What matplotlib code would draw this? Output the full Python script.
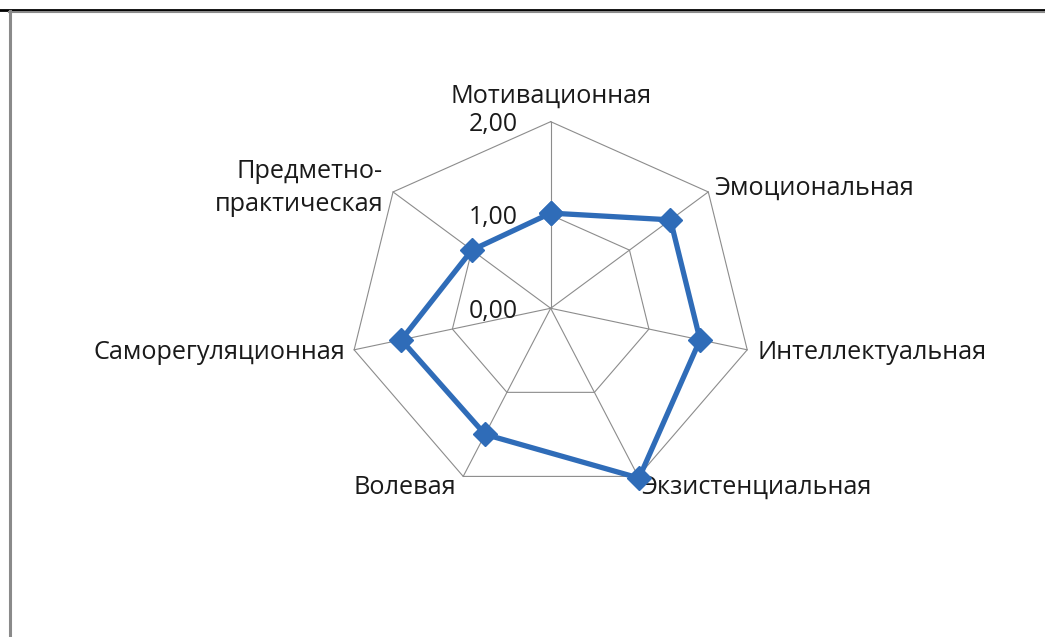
import matplotlib
matplotlib.use("Agg")
import matplotlib.pyplot as plt
import numpy as np
from matplotlib.lines import Line2D

categories = [
    "Мотивационная",
    "Эмоциональная",
    "Интеллектуальная",
    "Экзистенциальная",
    "Волевая",
    "Саморегуляционная",
    "Предметно-\nпрактическая",
]
values = [1.02, 1.52, 1.52, 2.02, 1.50, 1.52, 1.00]
ticks = [0.0, 1.0, 2.0]
tick_labels = ["0,00", "1,00", "2,00"]

# label offsets (pixels) from outer vertex, and alignment
label_offsets = [(0, 25), (6, 4), (10, -3), (3, -11), (-7, -11), (-9, -3), (-10, 4)]
label_ha = ["center", "left", "left", "left", "right", "right", "right"]

plt.rcParams["font.family"] = ["Open Sans", "DejaVu Sans"]
FS = 18.2
TXT = "#1a1a1a"

fig = plt.figure(figsize=(10.45, 6.37), dpi=100)
ax = fig.add_axes([0, 0, 1, 1])
# the original chart is slightly stretched horizontally
ax.set_xlim(-5.463, 4.904)
ax.set_ylim(-3.523, 3.304)
ax.axis("off")

n = len(categories)
ang = np.arange(n) * 2 * np.pi / n
sx, cy = np.sin(ang), np.cos(ang)

grid_col = "#8c8c8c"
for r in ticks[1:]:
    ax.plot(np.append(r * sx, r * sx[0]), np.append(r * cy, r * cy[0]),
            color=grid_col, lw=0.8, zorder=1)
for i in range(n):
    ax.plot([0, ticks[-1] * sx[i]], [0, ticks[-1] * cy[i]],
            color=grid_col, lw=0.8, zorder=1)

for t, lab in zip(ticks, tick_labels):
    ax.text(-0.33, t - 0.03, lab, ha="right", va="center", fontsize=FS - 0.4,
            color=TXT)

r_max = ticks[-1]
for i, name in enumerate(categories):
    ax.annotate(name, (r_max * sx[i], r_max * cy[i]), xytext=label_offsets[i],
                textcoords="offset pixels", ha=label_ha[i], va="center",
                fontsize=FS, color=TXT, multialignment="right", linespacing=1.45)

v = np.array(values)
ax.plot(np.append(v * sx, v[0] * sx[0]), np.append(v * cy, v[0] * cy[0]),
        color="#2f6cb8", lw=3.8, marker="D", markersize=12, zorder=3,
        solid_joinstyle="miter")

# page frame
fig.add_artist(Line2D([0, 1], [1 - 9.5 / 637] * 2, color="black", lw=2.0,
                      transform=fig.transFigure))
fig.add_artist(Line2D([9 / 1045, 1], [1 - 12 / 637] * 2, color="#8a8a8a", lw=1.5,
                      transform=fig.transFigure))
fig.add_artist(Line2D([9.5 / 1045] * 2, [0, 1 - 11 / 637], color="#8a8a8a", lw=2.2,
                      transform=fig.transFigure))

fig.savefig("out.png", dpi=100)
